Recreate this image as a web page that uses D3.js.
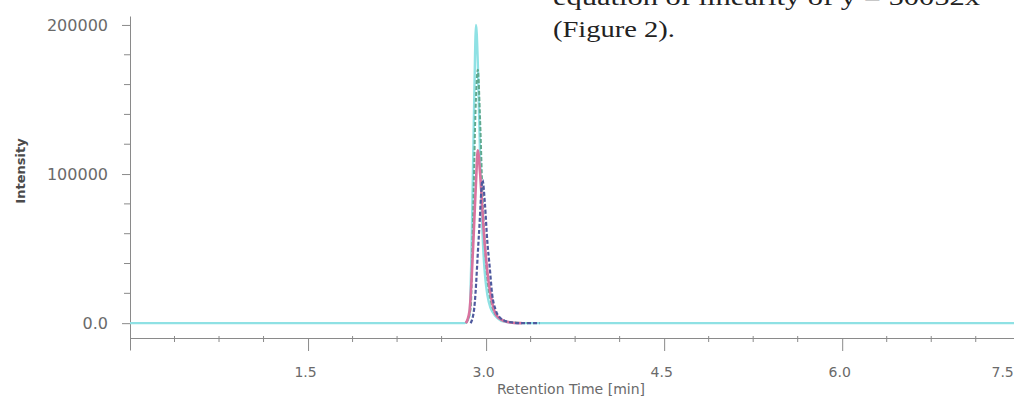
<!DOCTYPE html>
<html>
<head>
<meta charset="utf-8">
<script src="https://cdn.jsdelivr.net/npm/d3@7"></script>
<style>
  body { margin: 0; background: #fff; }
  svg { display: block; }
</style>
</head>
<body>
<div id="svg-container"></div>
<script>

// tick labels
var xMajorTicks = [1.5, 3.0, 4.5, 6.0, 7.5];
var yMajorTicks = [0, 100000, 200000];

// traces: [retention time (min), intensity]
var cyanTrace = [[0,0],[2.82,0],[2.86,5000],[2.88,60000],[2.9,150000],[2.915,200000],[2.93,175000],[2.95,110000],[2.97,60000],[3.0,25000],[3.05,8000],[3.15,1000],[3.3,0],[7.7,0]];
var tealTrace = [[2.83,0],[2.87,10000],[2.89,70000],[2.91,140000],[2.93,170000],[2.95,135000],[2.97,85000],[3.0,40000],[3.04,15000],[3.1,4000],[3.2,800],[3.35,0]];
var pinkTrace = [[2.83,0],[2.86,8000],[2.89,50000],[2.915,95000],[2.93,116000],[2.95,100000],[2.98,62000],[3.01,35000],[3.05,14000],[3.1,4000],[3.2,500],[3.3,0]];
var blueTrace = [[2.87,0],[2.9,10000],[2.94,60000],[2.97,96000],[2.99,80000],[3.01,55000],[3.03,38000],[3.05,20000],[3.08,9000],[3.12,3500],[3.18,1000],[3.3,0],[3.45,0]];
var greyTrace = [[3.3,0],[7.7,0]];

var width = 1014;
var height = 399;

var svg = d3.select('#svg-container')
  .append('svg')
  .attr("width", width)
  .attr("height", height);

// scales
var xscale = d3.scaleLinear()
  .domain([0, 7.6])
  .range([130, 130 + 7.6 * 118.7]);

var yscale = d3.scaleLinear()
  .domain([-18000, 206000])
  .range([350, 16]);

var axisColor = "#8a8a8a";
var textColor = "#6a6a6a";

// Y axis
var y_axis = d3.axisLeft()
  .scale(yscale)
  .tickValues(yMajorTicks)
  .tickSize(8)
  .tickSizeOuter(0)
  .tickPadding(14)
  .tickFormat(function(d) { return d == 0 ? "0.0" : d; });

var gy = svg.append("g")
  .attr("transform", "translate(130, 0)")
  .call(y_axis);

gy.selectAll("path, line").attr("stroke", axisColor);
gy.selectAll("text")
  .attr("fill", textColor)
  .attr("font-family", "DejaVu Sans, Verdana, sans-serif")
  .attr("font-size", 16);

// y minor ticks every 20000
var yMinor = d3.range(20000, 200000, 20000).filter(function(d) { return d % 100000 != 0; });
svg.selectAll(".yminor")
  .data(yMinor)
  .enter()
  .append("line")
  .attr("x1", 124)
  .attr("x2", 130)
  .attr("y1", (d) => yscale(d))
  .attr("y2", (d) => yscale(d))
  .attr("stroke", axisColor);

// X axis
var x_axis = d3.axisBottom()
  .scale(xscale)
  .tickValues(xMajorTicks)
  .tickSize(13)
  .tickSizeOuter(0)
  .tickPadding(16)
  .tickFormat(d3.format(".1f"));

var gx = svg.append("g")
  .attr("transform", "translate(0, 338)")
  .call(x_axis);

gx.selectAll("path, line").attr("stroke", axisColor);
gx.selectAll("text")
  .attr("fill", textColor)
  .attr("dx", -3)
  .attr("font-family", "DejaVu Sans, Verdana, sans-serif")
  .attr("font-size", 14);

// last label sits inside the page edge
gx.selectAll(".tick")
  .filter((d) => d == 7.5)
  .select("text")
  .attr("text-anchor", "end")
  .attr("dx", -7);

// x minor ticks every 0.375 min
var xMinor = d3.range(1, 21).filter(function(k) { return k % 4 != 0; }).map(function(k) { return k * 0.375; });
svg.selectAll(".xminor")
  .data(xMinor)
  .enter()
  .append("line")
  .attr("x1", (d) => xscale(d))
  .attr("x2", (d) => xscale(d))
  .attr("y1", 336)
  .attr("y2", 342)
  .attr("stroke", axisColor);

// axis titles
svg.append("text")
  .attr("transform", "translate(25, 171) rotate(-90)")
  .attr("text-anchor", "middle")
  .attr("font-family", "DejaVu Sans, Verdana, sans-serif")
  .attr("font-size", 13)
  .attr("font-weight", "bold")
  .attr("fill", "#4a4a4a")
  .text("Intensity");

svg.append("text")
  .attr("x", 571)
  .attr("y", 394)
  .attr("text-anchor", "middle")
  .attr("font-family", "DejaVu Sans, Verdana, sans-serif")
  .attr("font-size", 14)
  .attr("fill", textColor)
  .text("Retention Time [min]");

// traces
var line = d3.line()
  .x((d) => xscale(d[0]))
  .y((d) => yscale(d[1]))
  .curve(d3.curveMonotoneX);

svg.append("path").datum(greyTrace)
  .attr("d", line).attr("fill", "none")
  .attr("stroke", "#9a9a9a").attr("stroke-width", 1.2);

svg.append("path").datum(cyanTrace)
  .attr("d", line).attr("fill", "none")
  .attr("stroke", "#8fe1e4").attr("stroke-width", 2.4);

svg.append("path").datum(tealTrace)
  .attr("d", line).attr("fill", "none")
  .attr("stroke", "#5fa98f").attr("stroke-width", 2)
  .attr("stroke-dasharray", "4,2");

svg.append("path").datum(pinkTrace)
  .attr("d", line).attr("fill", "none")
  .attr("stroke", "#d9739f").attr("stroke-width", 2.6);

svg.append("path").datum(blueTrace)
  .attr("d", line).attr("fill", "none")
  .attr("stroke", "#4f5a9e").attr("stroke-width", 2.2)
  .attr("stroke-dasharray", "4,2");

// body text of the page behind the figure
svg.append("text")
  .attr("x", 553)
  .attr("y", 5)
  .attr("font-family", "Liberation Serif, Times New Roman, serif")
  .attr("font-size", 24)
  .attr("fill", "#222")
  .attr("textLength", 427)
  .attr("lengthAdjust", "spacingAndGlyphs")
  .text("equation of linearity of y = 50052x");

svg.append("text")
  .attr("x", 553)
  .attr("y", 37)
  .attr("font-family", "Liberation Serif, Times New Roman, serif")
  .attr("font-size", 24)
  .attr("fill", "#222")
  .attr("textLength", 122)
  .attr("lengthAdjust", "spacingAndGlyphs")
  .text("(Figure 2).");

</script>
</body>
</html>
